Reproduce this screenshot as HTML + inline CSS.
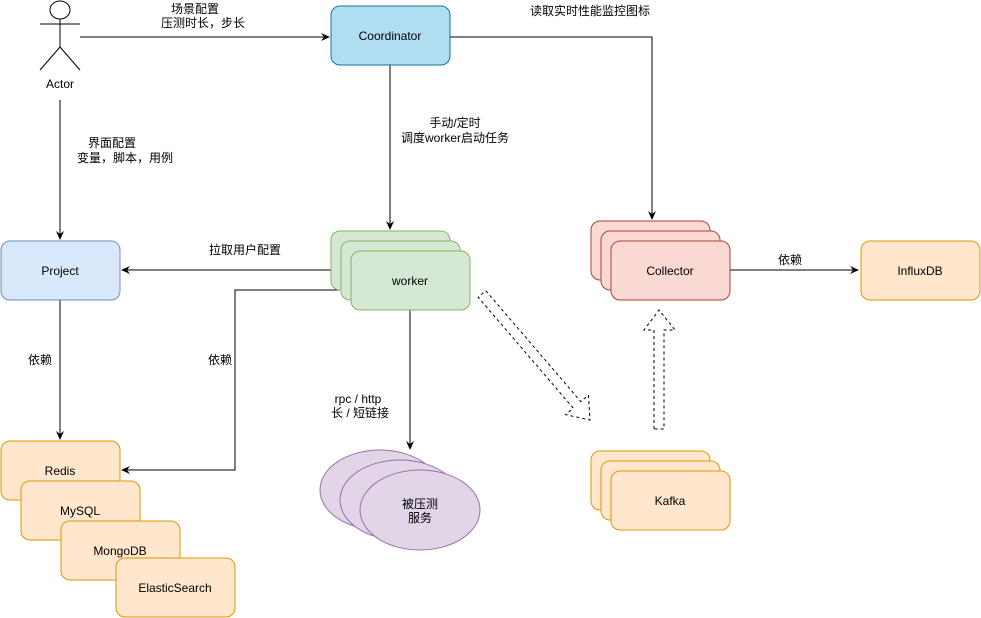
<!DOCTYPE html>
<html><head><meta charset="utf-8"><style>
body{margin:0;background:#fff}
svg{display:block}
text{font-family:"Liberation Sans","Noto Sans CJK SC",sans-serif;font-size:12px;fill:#000}
</style></head><body>
<svg width="981" height="618" viewBox="0 0 981 618" xmlns="http://www.w3.org/2000/svg">
<defs><marker id="a" markerWidth="10" markerHeight="10" refX="8" refY="5" orient="auto" markerUnits="userSpaceOnUse"><path d="M0,1 L9,5 L0,9 L3,5 Z" fill="#000"/></marker></defs>
<g stroke="#000" fill="none" stroke-width="1">
<ellipse cx="60" cy="10" rx="10" ry="9" fill="#fff"/>
<line x1="60" y1="19" x2="60" y2="47"/><line x1="40" y1="24" x2="80" y2="24"/>
<line x1="60" y1="47" x2="40" y2="70"/><line x1="60" y1="47" x2="80" y2="70"/>
<path d="M80,37 H329" marker-end="url(#a)"/>
<path d="M450,37 H652 V219" marker-end="url(#a)"/>
<path d="M390,65 V229" marker-end="url(#a)"/>
<path d="M60,100 V239" marker-end="url(#a)"/>
<path d="M331,270 H122" marker-end="url(#a)"/>
<path d="M60,300 V439" marker-end="url(#a)"/>
<path d="M341,290 H235 V470 H122" marker-end="url(#a)"/>
<path d="M410,310 V449" marker-end="url(#a)"/>
<path d="M730,270 H858" marker-end="url(#a)"/>
</g>
<text x="80" y="88" text-anchor="middle" dx="-20">Actor</text>
<rect x="331" y="6" width="119" height="59" rx="9" fill="#b1ddf0" stroke="#10739e"/>
<text x="390" y="40" text-anchor="middle">Coordinator</text>
<text x="195" y="13" text-anchor="middle">场景配置</text>
<text x="203" y="27" text-anchor="middle">压测时长，步长</text>
<text x="590" y="15" text-anchor="middle">读取实时性能监控图标</text>
<text x="455" y="127" text-anchor="middle">手动/定时</text>
<text x="455" y="142" text-anchor="middle">调度worker启动任务</text>
<text x="112" y="147" text-anchor="middle">界面配置</text>
<text x="125" y="162" text-anchor="middle">变量，脚本，用例</text>
<text x="245" y="254" text-anchor="middle">拉取用户配置</text>
<text x="40" y="364" text-anchor="middle">依赖</text>
<text x="220" y="364" text-anchor="middle">依赖</text>
<text x="358" y="403" text-anchor="middle">rpc / http</text>
<text x="360" y="417" text-anchor="middle">长 / 短链接</text>
<text x="790" y="264" text-anchor="middle">依赖</text>
<g fill="#d5e8d4" stroke="#82b366">
<rect x="331" y="231" width="119" height="59" rx="9"/><rect x="341" y="241" width="119" height="59" rx="9"/><rect x="351" y="251" width="119" height="59" rx="9"/></g>
<text x="410" y="285" text-anchor="middle">worker</text>
<rect x="1" y="241" width="119" height="59" rx="9" fill="#dae8fc" stroke="#6c8ebf"/>
<text x="60" y="275" text-anchor="middle">Project</text>
<g fill="#ffe6cc" stroke="#d79b00">
<rect x="1" y="441" width="119" height="59" rx="9"/></g><text x="60" y="475" text-anchor="middle">Redis</text>
<rect x="21" y="481" width="119" height="59" rx="9" fill="#ffe6cc" stroke="#d79b00"/><text x="80" y="515" text-anchor="middle">MySQL</text>
<rect x="61" y="521" width="119" height="59" rx="9" fill="#ffe6cc" stroke="#d79b00"/><text x="120" y="555" text-anchor="middle">MongoDB</text>
<rect x="116" y="558" width="119" height="59" rx="9" fill="#ffe6cc" stroke="#d79b00"/><text x="175" y="592" text-anchor="middle">ElasticSearch</text>
<g fill="#e1d5e7" stroke="#9673a6">
<ellipse cx="380" cy="490" rx="60" ry="40"/><ellipse cx="400" cy="500" rx="60" ry="40"/><ellipse cx="420" cy="510" rx="60" ry="40"/></g>
<text x="420" y="508" text-anchor="middle">被压测</text><text x="420" y="522" text-anchor="middle">服务</text>
<g fill="#fad9d5" stroke="#ae4132">
<rect x="591" y="221" width="119" height="59" rx="9"/><rect x="601" y="231" width="119" height="59" rx="9"/><rect x="611" y="241" width="119" height="59" rx="9"/></g>
<text x="670" y="275" text-anchor="middle">Collector</text>
<rect x="861" y="241" width="119" height="59" rx="9" fill="#ffe6cc" stroke="#d79b00"/>
<text x="920" y="275" text-anchor="middle">InfluxDB</text>
<g fill="#ffe6cc" stroke="#d79b00">
<rect x="591" y="451" width="119" height="59" rx="9"/><rect x="601" y="461" width="119" height="59" rx="9"/><rect x="611" y="471" width="119" height="59" rx="9"/></g>
<text x="670" y="505" text-anchor="middle">Kafka</text>
<path d="M654,429 V330 H644 L659,310 L675,330 H664 V429 Z" fill="#fff" stroke="#000" stroke-dasharray="3,3"/>
<path transform="translate(482,294) rotate(49.4)" d="M0,-5 H146 V-15 L166,0 L146,15 V5 H0 Z" fill="#fff" stroke="#000" stroke-dasharray="3,3"/>
</svg>
</body></html>
